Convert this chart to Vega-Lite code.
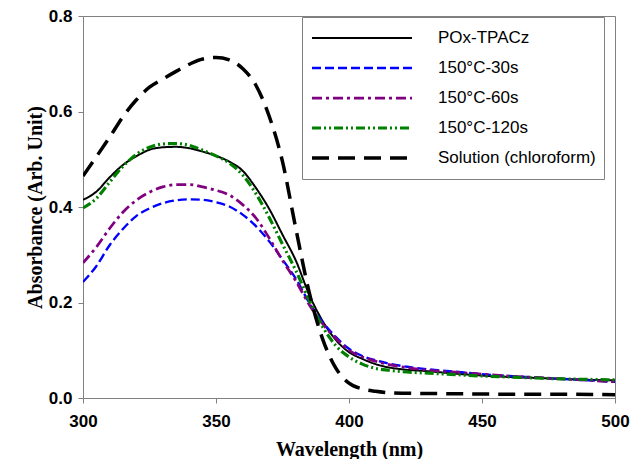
{
  "$schema": "https://vega.github.io/schema/vega-lite/v6.json",
  "width": 532,
  "height": 382,
  "autosize": {"type": "none"},
  "padding": {"left": 83, "top": 16, "right": 15, "bottom": 61},
  "background": "white",
  "config": {
    "view": {"stroke": "#808080", "strokeWidth": 1},
    "axis": {
      "grid": false,
      "domainColor": "#808080",
      "tickColor": "#808080",
      "tickSize": 5,
      "labelFont": "Liberation Sans",
      "labelFontWeight": "bold",
      "labelFontSize": 17,
      "labelColor": "#000000",
      "titleFont": "Liberation Serif",
      "titleFontWeight": "bold",
      "titleFontSize": 20,
      "titleColor": "#000000"
    },
    "legend": {
      "orient": "none",
      "legendX": 219,
      "legendY": 1,
      "strokeColor": "#808080",
      "fillColor": "white",
      "padding": 8,
      "symbolType": "stroke",
      "symbolSize": 10000,
      "symbolOffset": 0,
      "clipHeight": 26,
      "rowPadding": 4,
      "labelOffset": 24,
      "labelFont": "Liberation Sans",
      "labelFontSize": 17,
      "labelColor": "#000000",
      "labelLimit": 300
    }
  },
  "data": {
    "values": [
      {"series": "POx-TPACz", "wl": 300, "abs": 0.415},
      {"series": "POx-TPACz", "wl": 305, "abs": 0.432},
      {"series": "POx-TPACz", "wl": 310, "abs": 0.462},
      {"series": "POx-TPACz", "wl": 315, "abs": 0.488},
      {"series": "POx-TPACz", "wl": 320, "abs": 0.506},
      {"series": "POx-TPACz", "wl": 325, "abs": 0.520},
      {"series": "POx-TPACz", "wl": 330, "abs": 0.525},
      {"series": "POx-TPACz", "wl": 335, "abs": 0.526},
      {"series": "POx-TPACz", "wl": 340, "abs": 0.523},
      {"series": "POx-TPACz", "wl": 345, "abs": 0.516},
      {"series": "POx-TPACz", "wl": 350, "abs": 0.507},
      {"series": "POx-TPACz", "wl": 355, "abs": 0.495},
      {"series": "POx-TPACz", "wl": 360, "abs": 0.476},
      {"series": "POx-TPACz", "wl": 365, "abs": 0.440},
      {"series": "POx-TPACz", "wl": 370, "abs": 0.396},
      {"series": "POx-TPACz", "wl": 375, "abs": 0.342},
      {"series": "POx-TPACz", "wl": 380, "abs": 0.288},
      {"series": "POx-TPACz", "wl": 385, "abs": 0.217},
      {"series": "POx-TPACz", "wl": 390, "abs": 0.162},
      {"series": "POx-TPACz", "wl": 395, "abs": 0.122},
      {"series": "POx-TPACz", "wl": 400, "abs": 0.096},
      {"series": "POx-TPACz", "wl": 405, "abs": 0.082},
      {"series": "POx-TPACz", "wl": 410, "abs": 0.071},
      {"series": "POx-TPACz", "wl": 415, "abs": 0.064},
      {"series": "POx-TPACz", "wl": 420, "abs": 0.060},
      {"series": "POx-TPACz", "wl": 430, "abs": 0.056},
      {"series": "POx-TPACz", "wl": 440, "abs": 0.051},
      {"series": "POx-TPACz", "wl": 450, "abs": 0.047},
      {"series": "POx-TPACz", "wl": 460, "abs": 0.044},
      {"series": "POx-TPACz", "wl": 470, "abs": 0.042},
      {"series": "POx-TPACz", "wl": 480, "abs": 0.040},
      {"series": "POx-TPACz", "wl": 490, "abs": 0.038},
      {"series": "POx-TPACz", "wl": 500, "abs": 0.037},

      {"series": "150°C-30s", "wl": 300, "abs": 0.243},
      {"series": "150°C-30s", "wl": 305, "abs": 0.276},
      {"series": "150°C-30s", "wl": 310, "abs": 0.320},
      {"series": "150°C-30s", "wl": 315, "abs": 0.354},
      {"series": "150°C-30s", "wl": 320, "abs": 0.381},
      {"series": "150°C-30s", "wl": 325, "abs": 0.397},
      {"series": "150°C-30s", "wl": 330, "abs": 0.408},
      {"series": "150°C-30s", "wl": 335, "abs": 0.414},
      {"series": "150°C-30s", "wl": 340, "abs": 0.416},
      {"series": "150°C-30s", "wl": 345, "abs": 0.415},
      {"series": "150°C-30s", "wl": 350, "abs": 0.410},
      {"series": "150°C-30s", "wl": 355, "abs": 0.401},
      {"series": "150°C-30s", "wl": 360, "abs": 0.384},
      {"series": "150°C-30s", "wl": 365, "abs": 0.360},
      {"series": "150°C-30s", "wl": 370, "abs": 0.328},
      {"series": "150°C-30s", "wl": 375, "abs": 0.290},
      {"series": "150°C-30s", "wl": 380, "abs": 0.250},
      {"series": "150°C-30s", "wl": 385, "abs": 0.200},
      {"series": "150°C-30s", "wl": 390, "abs": 0.160},
      {"series": "150°C-30s", "wl": 395, "abs": 0.128},
      {"series": "150°C-30s", "wl": 400, "abs": 0.103},
      {"series": "150°C-30s", "wl": 405, "abs": 0.088},
      {"series": "150°C-30s", "wl": 410, "abs": 0.079},
      {"series": "150°C-30s", "wl": 415, "abs": 0.072},
      {"series": "150°C-30s", "wl": 420, "abs": 0.067},
      {"series": "150°C-30s", "wl": 430, "abs": 0.060},
      {"series": "150°C-30s", "wl": 440, "abs": 0.055},
      {"series": "150°C-30s", "wl": 450, "abs": 0.050},
      {"series": "150°C-30s", "wl": 460, "abs": 0.046},
      {"series": "150°C-30s", "wl": 470, "abs": 0.043},
      {"series": "150°C-30s", "wl": 480, "abs": 0.040},
      {"series": "150°C-30s", "wl": 490, "abs": 0.037},
      {"series": "150°C-30s", "wl": 500, "abs": 0.034},

      {"series": "150°C-60s", "wl": 300, "abs": 0.283},
      {"series": "150°C-60s", "wl": 305, "abs": 0.316},
      {"series": "150°C-60s", "wl": 310, "abs": 0.355},
      {"series": "150°C-60s", "wl": 315, "abs": 0.389},
      {"series": "150°C-60s", "wl": 320, "abs": 0.414},
      {"series": "150°C-60s", "wl": 325, "abs": 0.431},
      {"series": "150°C-60s", "wl": 330, "abs": 0.442},
      {"series": "150°C-60s", "wl": 335, "abs": 0.447},
      {"series": "150°C-60s", "wl": 340, "abs": 0.447},
      {"series": "150°C-60s", "wl": 345, "abs": 0.442},
      {"series": "150°C-60s", "wl": 350, "abs": 0.435},
      {"series": "150°C-60s", "wl": 355, "abs": 0.425},
      {"series": "150°C-60s", "wl": 360, "abs": 0.405},
      {"series": "150°C-60s", "wl": 365, "abs": 0.377},
      {"series": "150°C-60s", "wl": 370, "abs": 0.335},
      {"series": "150°C-60s", "wl": 375, "abs": 0.288},
      {"series": "150°C-60s", "wl": 380, "abs": 0.245},
      {"series": "150°C-60s", "wl": 385, "abs": 0.196},
      {"series": "150°C-60s", "wl": 390, "abs": 0.156},
      {"series": "150°C-60s", "wl": 395, "abs": 0.125},
      {"series": "150°C-60s", "wl": 400, "abs": 0.100},
      {"series": "150°C-60s", "wl": 405, "abs": 0.086},
      {"series": "150°C-60s", "wl": 410, "abs": 0.077},
      {"series": "150°C-60s", "wl": 415, "abs": 0.070},
      {"series": "150°C-60s", "wl": 420, "abs": 0.065},
      {"series": "150°C-60s", "wl": 430, "abs": 0.058},
      {"series": "150°C-60s", "wl": 440, "abs": 0.054},
      {"series": "150°C-60s", "wl": 450, "abs": 0.050},
      {"series": "150°C-60s", "wl": 460, "abs": 0.046},
      {"series": "150°C-60s", "wl": 470, "abs": 0.043},
      {"series": "150°C-60s", "wl": 480, "abs": 0.040},
      {"series": "150°C-60s", "wl": 490, "abs": 0.037},
      {"series": "150°C-60s", "wl": 500, "abs": 0.034},

      {"series": "150°C-120s", "wl": 300, "abs": 0.398},
      {"series": "150°C-120s", "wl": 305, "abs": 0.418},
      {"series": "150°C-120s", "wl": 310, "abs": 0.452},
      {"series": "150°C-120s", "wl": 315, "abs": 0.485},
      {"series": "150°C-120s", "wl": 320, "abs": 0.510},
      {"series": "150°C-120s", "wl": 325, "abs": 0.525},
      {"series": "150°C-120s", "wl": 330, "abs": 0.532},
      {"series": "150°C-120s", "wl": 335, "abs": 0.533},
      {"series": "150°C-120s", "wl": 340, "abs": 0.529},
      {"series": "150°C-120s", "wl": 345, "abs": 0.519},
      {"series": "150°C-120s", "wl": 350, "abs": 0.507},
      {"series": "150°C-120s", "wl": 355, "abs": 0.492},
      {"series": "150°C-120s", "wl": 360, "abs": 0.467},
      {"series": "150°C-120s", "wl": 365, "abs": 0.428},
      {"series": "150°C-120s", "wl": 370, "abs": 0.378},
      {"series": "150°C-120s", "wl": 375, "abs": 0.322},
      {"series": "150°C-120s", "wl": 380, "abs": 0.267},
      {"series": "150°C-120s", "wl": 385, "abs": 0.205},
      {"series": "150°C-120s", "wl": 390, "abs": 0.150},
      {"series": "150°C-120s", "wl": 395, "abs": 0.110},
      {"series": "150°C-120s", "wl": 400, "abs": 0.086},
      {"series": "150°C-120s", "wl": 405, "abs": 0.071},
      {"series": "150°C-120s", "wl": 410, "abs": 0.062},
      {"series": "150°C-120s", "wl": 415, "abs": 0.058},
      {"series": "150°C-120s", "wl": 420, "abs": 0.055},
      {"series": "150°C-120s", "wl": 430, "abs": 0.052},
      {"series": "150°C-120s", "wl": 440, "abs": 0.049},
      {"series": "150°C-120s", "wl": 450, "abs": 0.046},
      {"series": "150°C-120s", "wl": 460, "abs": 0.044},
      {"series": "150°C-120s", "wl": 470, "abs": 0.042},
      {"series": "150°C-120s", "wl": 480, "abs": 0.040},
      {"series": "150°C-120s", "wl": 490, "abs": 0.039},
      {"series": "150°C-120s", "wl": 500, "abs": 0.038},

      {"series": "Solution (chloroform)", "wl": 300, "abs": 0.465},
      {"series": "Solution (chloroform)", "wl": 305, "abs": 0.505},
      {"series": "Solution (chloroform)", "wl": 310, "abs": 0.546},
      {"series": "Solution (chloroform)", "wl": 315, "abs": 0.589},
      {"series": "Solution (chloroform)", "wl": 320, "abs": 0.624},
      {"series": "Solution (chloroform)", "wl": 325, "abs": 0.651},
      {"series": "Solution (chloroform)", "wl": 330, "abs": 0.668},
      {"series": "Solution (chloroform)", "wl": 335, "abs": 0.684},
      {"series": "Solution (chloroform)", "wl": 340, "abs": 0.699},
      {"series": "Solution (chloroform)", "wl": 345, "abs": 0.710},
      {"series": "Solution (chloroform)", "wl": 350, "abs": 0.713},
      {"series": "Solution (chloroform)", "wl": 355, "abs": 0.708},
      {"series": "Solution (chloroform)", "wl": 360, "abs": 0.690},
      {"series": "Solution (chloroform)", "wl": 365, "abs": 0.655},
      {"series": "Solution (chloroform)", "wl": 370, "abs": 0.590},
      {"series": "Solution (chloroform)", "wl": 375, "abs": 0.495},
      {"series": "Solution (chloroform)", "wl": 380, "abs": 0.355},
      {"series": "Solution (chloroform)", "wl": 385, "abs": 0.222},
      {"series": "Solution (chloroform)", "wl": 390, "abs": 0.125},
      {"series": "Solution (chloroform)", "wl": 395, "abs": 0.063},
      {"series": "Solution (chloroform)", "wl": 400, "abs": 0.031},
      {"series": "Solution (chloroform)", "wl": 405, "abs": 0.019},
      {"series": "Solution (chloroform)", "wl": 410, "abs": 0.014},
      {"series": "Solution (chloroform)", "wl": 415, "abs": 0.011},
      {"series": "Solution (chloroform)", "wl": 420, "abs": 0.010},
      {"series": "Solution (chloroform)", "wl": 440, "abs": 0.009},
      {"series": "Solution (chloroform)", "wl": 460, "abs": 0.008},
      {"series": "Solution (chloroform)", "wl": 480, "abs": 0.008},
      {"series": "Solution (chloroform)", "wl": 500, "abs": 0.007}
    ]
  },
  "mark": {"type": "line", "interpolate": "monotone", "clip": true},
  "encoding": {
    "x": {
      "field": "wl",
      "type": "quantitative",
      "scale": {"domain": [300, 500], "nice": false},
      "axis": {
        "title": "Wavelength (nm)",
        "values": [300, 350, 400, 450, 500],
        "labelPadding": 10,
        "titlePadding": 10,
        "labelFlush": false
      }
    },
    "y": {
      "field": "abs",
      "type": "quantitative",
      "scale": {"domain": [0, 0.8], "nice": false},
      "axis": {
        "title": "Absorbance (Arb. Unit)",
        "values": [0, 0.2, 0.4, 0.6, 0.8],
        "format": ".1f",
        "labelPadding": 6,
        "titlePadding": 3
      }
    },
    "color": {
      "field": "series",
      "type": "nominal",
      "scale": {
        "domain": ["POx-TPACz", "150°C-30s", "150°C-60s", "150°C-120s", "Solution (chloroform)"],
        "range": ["#000000", "#0000FF", "#800080", "#008000", "#000000"]
      },
      "legend": {"title": null}
    },
    "strokeDash": {
      "field": "series",
      "type": "nominal",
      "scale": {
        "domain": ["POx-TPACz", "150°C-30s", "150°C-60s", "150°C-120s", "Solution (chloroform)"],
        "range": [[1, 0], [9, 4], [10, 4, 3, 4], [9, 3, 2, 3, 2, 3], [17, 9]]
      },
      "legend": {"title": null}
    },
    "strokeWidth": {
      "field": "series",
      "type": "ordinal",
      "scale": {
        "domain": ["POx-TPACz", "150°C-30s", "150°C-60s", "150°C-120s", "Solution (chloroform)"],
        "range": [2, 3.5, 3.5, 3.5, 3.5]
      },
      "legend": {"title": null}
    }
  }
}
